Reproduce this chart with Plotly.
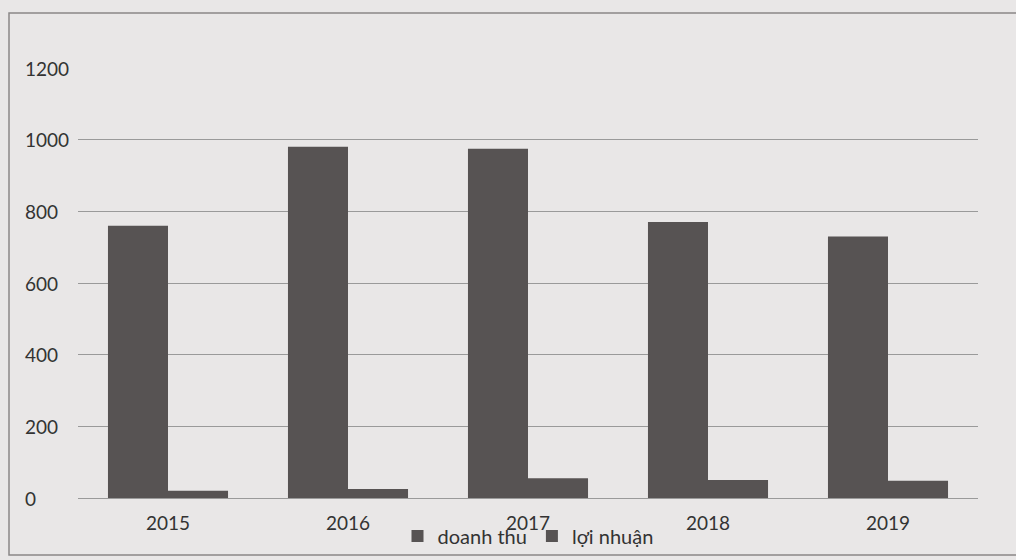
import plotly.graph_objects as go

years = ["2015", "2016", "2017", "2018", "2019"]
doanh_thu = [760, 980, 975, 770, 730]
loi_nhuan = [20, 25, 55, 50, 48]
y_ticks = [0, 200, 400, 600, 800, 1000, 1200]

bar_color = "#575353"
bg = "#e9e7e7"
text_color = "#333333"
font_family = "Lato, 'Open Sans', sans-serif"

W, H = 1016, 560
L, R, T, B = 78, 38, 68, 62
PW, PH = W - L - R, H - T - B

fig = go.Figure()
fig.add_trace(go.Bar(x=years, y=doanh_thu, name="doanh thu",
                     marker=dict(color=bar_color, line=dict(width=0))))
fig.add_trace(go.Bar(x=years, y=loi_nhuan, name="lợi nhuận",
                     marker=dict(color=bar_color, line=dict(width=0))))

fig.update_layout(
    width=W, height=H,
    margin=dict(l=L, r=R, t=T, b=B, autoexpand=False),
    paper_bgcolor=bg, plot_bgcolor=bg,
    barmode="group", bargap=0.333, bargroupgap=0,
    font=dict(family=font_family, size=19, color=text_color),
    showlegend=True,
    legend=dict(orientation="h", x=0.50, xanchor="center", y=-(536 - (H - B)) / PH,
                yanchor="middle",
                font=dict(size=20, color=text_color), bgcolor="rgba(0,0,0,0)",
                itemwidth=30, traceorder="normal", tracegroupgap=0),
    xaxis=dict(showgrid=False, showline=True, linecolor="#9a9a9a", linewidth=1,
               ticks="", ticklabelstandoff=8, automargin=False,
               tickfont=dict(size=19, color=text_color)),
    yaxis=dict(range=[0, 1200], tickvals=y_ticks, showgrid=True,
               gridcolor="#9a9a9a", gridwidth=1, zeroline=False, showline=False,
               ticks="", showticklabels=False, automargin=False),
)

# left-aligned y tick labels, as in the reference
for v in y_ticks:
    fig.add_annotation(x=(23 - L) / PW, xref="paper", xanchor="left",
                       y=v, yref="y", yanchor="middle", showarrow=False,
                       text=str(v), font=dict(size=19, color=text_color))

# chart frame
fig.add_shape(type="rect", xref="paper", yref="paper",
              x0=(9 - L) / PW, x1=1.1, y0=-(555 - (H - B)) / PH, y1=1 + (T - 13) / PH,
              line=dict(color="#8a8888", width=1.5), fillcolor="rgba(0,0,0,0)", layer="below")

fig.write_html(
    "out.html",
    config={"displayModeBar": False},
    post_script="document.body.style.margin='0';document.body.style.background='#e9e7e7';",
)
